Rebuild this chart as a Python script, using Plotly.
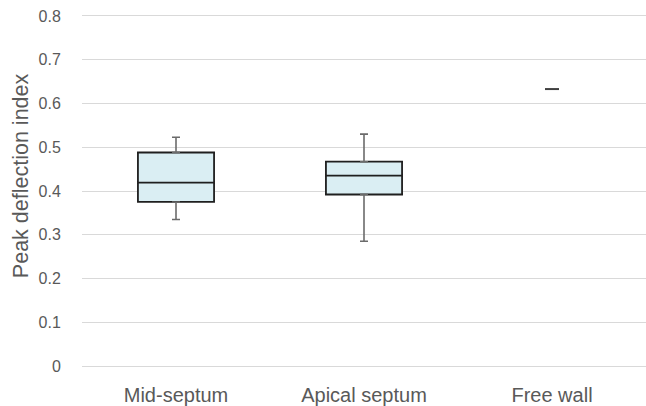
import plotly.graph_objects as go

categories = ["Mid-septum", "Apical septum", "Free wall"]
box_cats = ["Mid-septum", "Apical septum"]
q1 = [0.375, 0.392]
median = [0.419, 0.435]
q3 = [0.488, 0.467]
lower = [0.335, 0.285]
upper = [0.523, 0.530]
single_cat = ["Free wall"]
single_val = [0.633]
y_ticks = [0, 0.1, 0.2, 0.3, 0.4, 0.5, 0.6, 0.7, 0.8]
y_ticktext = ["0", "0.1", "0.2", "0.3", "0.4", "0.5", "0.6", "0.7", "0.8"]

pos = {c: i for i, c in enumerate(categories)}
bx = [pos[c] for c in box_cats]

fig = go.Figure()

# whiskers (gray) drawn under boxes
fig.add_trace(go.Scatter(
    x=bx, y=q3, mode="markers", marker=dict(size=0.1, opacity=0),
    error_y=dict(type="data", symmetric=False,
                 array=[u - t for u, t in zip(upper, q3)],
                 arrayminus=[0] * len(q3),
                 color="#6b6b6b", thickness=1.6, width=4),
    showlegend=False, hoverinfo="skip"))
fig.add_trace(go.Scatter(
    x=bx, y=q1, mode="markers", marker=dict(size=0.1, opacity=0),
    error_y=dict(type="data", symmetric=False,
                 array=[0] * len(q1),
                 arrayminus=[b - l for b, l in zip(q1, lower)],
                 color="#6b6b6b", thickness=1.6, width=4),
    showlegend=False, hoverinfo="skip"))

fig.add_trace(go.Box(
    x=bx, q1=q1, median=median, q3=q3,
    lowerfence=q1, upperfence=q3,
    width=0.405, whiskerwidth=0,
    fillcolor="#DAEEF3", line=dict(color="#1f1f1f", width=1.8),
    boxpoints=False, showlegend=False))

fig.add_trace(go.Scatter(
    x=[pos[c] for c in single_cat], y=single_val, mode="markers",
    marker=dict(symbol="line-ew", size=10, line=dict(color="#404040", width=2)),
    showlegend=False))

fig.update_layout(
    width=646, height=406,
    margin=dict(l=82, r=0, t=14, b=36),
    paper_bgcolor="white", plot_bgcolor="white",
    font=dict(family="Liberation Sans, Arial, sans-serif", color="#595959"),
    annotations=[dict(
        text="Peak deflection index", textangle=-90,
        xref="paper", yref="paper", x=-61 / 564, y=0.542,
        xanchor="center", yanchor="middle", showarrow=False,
        font=dict(size=21.5, color="#595959"))],
)
fig.update_xaxes(
    range=[-0.5, 2.5], tickvals=list(range(len(categories))), ticktext=categories,
    showgrid=False, zeroline=False, showline=False,
    tickfont=dict(size=20, color="#595959"),
    ticks="outside", ticklen=9, tickcolor="rgba(0,0,0,0)")
fig.update_yaxes(
    range=[-0.004545, 0.804545], tickvals=y_ticks, ticktext=y_ticktext,
    showgrid=True, gridcolor="#D9D9D9", gridwidth=1.3,
    zeroline=False, showline=False, ticklabeloverflow="allow",
    tickfont=dict(size=16, color="#595959"),
    ticks="outside", ticklen=17, tickcolor="rgba(0,0,0,0)")

fig.write_html("out.html", config={"displayModeBar": False},
               post_script="document.body.style.margin='0px';")
